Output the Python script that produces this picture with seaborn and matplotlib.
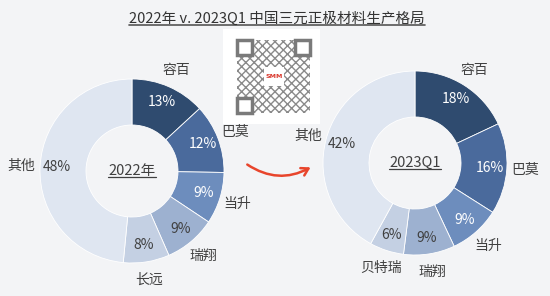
import matplotlib.pyplot as plt
import seaborn as sns
from matplotlib.patches import FancyArrowPatch, Rectangle
from matplotlib.lines import Line2D

# data
labels_2022 = ["容百", "巴莫", "当升", "瑞翔", "长远", "其他"]
share_2022 = [13, 12, 9, 9, 8, 48]
labels_2023 = ["容百", "巴莫", "当升", "瑞翔", "贝特瑞", "其他"]
share_2023 = [18, 16, 9, 9, 6, 42]

title = "2022年 v. 2023Q1 中国三元正极材料生产格局"
centers = ["2022年", "2023Q1"]

colors = ["#2f4b6f", "#4a6a9c", "#6d8dbd", "#9db1d0", "#c4d0e3", "#dfe6f1"]
bg = "#f3f4f6"
txt = "#404040"

sns.set_theme(style="white")
plt.rcParams["font.family"] = ["Noto Sans CJK SC", "DejaVu Sans"]

W, H = 550, 296
fig = plt.figure(figsize=(W / 100, H / 100), dpi=100, facecolor=bg)

R = 92          # donut radius in px
LIM = 1.45
side = 2 * LIM * R


def add_donut(cx, cy, labels, values, center_text):
    ax = fig.add_axes([(cx - side / 2) / W, (H - cy - side / 2) / H, side / W, side / H])
    wedges, ltexts, ptexts = ax.pie(
        values, labels=labels, colors=colors, startangle=90, counterclock=False,
        autopct="%.0f%%", labeldistance=1.2, pctdistance=0.82,
        wedgeprops=dict(width=0.5, edgecolor="white", linewidth=0.6),
        textprops=dict(fontsize=10, color=txt),
    )
    ax.set_xlim(-LIM, LIM)
    ax.set_ylim(-LIM, LIM)
    ax.set_aspect("equal")
    ax.axis("off")
    for i, (t, v) in enumerate(zip(ptexts, values)):
        t.set_text(f"{v}%")
        t.set_color("white" if i < 3 else txt)
    for t in ltexts:
        t.set_ha("center")
        t.set_va("center")
    ct = ax.text(0, 0, center_text, ha="center", va="center", fontsize=10.5, color=txt)
    return ax, ct


axL, ctL = add_donut(132, 171, labels_2022, share_2022, centers[0])
axR, ctR = add_donut(415, 163, labels_2023, share_2023, centers[1])

tt = fig.text(277 / W, 1 - 19 / H, title, ha="center", va="center", fontsize=10.5, color="#333333")

# QR code placeholder
fig.patches.append(Rectangle((223 / W, 1 - 124 / H), 97 / W, 95 / H, transform=fig.transFigure,
                             facecolor="white", edgecolor="none"))
fig.patches.append(Rectangle((237 / W, 1 - 113 / H), 73 / W, 73 / H, transform=fig.transFigure,
                             facecolor="white", edgecolor="#8a8a8a", hatch="xxxx", linewidth=0))
for qx, qy in ((237, 40), (295, 40), (237, 98)):
    fig.patches.append(Rectangle((qx / W, 1 - (qy + 15) / H), 15 / W, 15 / H, transform=fig.transFigure,
                                 facecolor="white", edgecolor="#7a7a7a", linewidth=2.5))
fig.patches.append(Rectangle((264 / W, 1 - 86 / H), 20 / W, 19 / H, transform=fig.transFigure,
                             facecolor="white", edgecolor="none"))
fig.text(274 / W, 1 - 76 / H, "SMM", ha="center", va="center", fontsize=4.5,
         color="#d9362b", fontweight="bold", family="DejaVu Sans")

# red arrow
arrow = FancyArrowPatch((245 / W, 1 - 163 / H), (313 / W, 1 - 166 / H), transform=fig.transFigure,
                        connectionstyle="arc3,rad=0.32", arrowstyle="->,head_length=5,head_width=3",
                        color="#e8452c", linewidth=1.8)
fig.patches.append(arrow)

# underlines
fig.canvas.draw()
r = fig.canvas.get_renderer()
inv = fig.transFigure.inverted()
for t, lw, c in ((tt, 1.2, "#555555"), (ctL, 0.9, txt), (ctR, 0.9, txt)):
    bb = t.get_window_extent(r)
    (x0, y0), (x1, _) = inv.transform([(bb.x0, bb.y0), (bb.x1, bb.y1)])
    fig.lines.append(Line2D([x0, x1], [y0 + 1 / H, y0 + 1 / H], transform=fig.transFigure,
                            color=c, linewidth=lw))

fig.savefig("out.png", dpi=100, facecolor=bg)
